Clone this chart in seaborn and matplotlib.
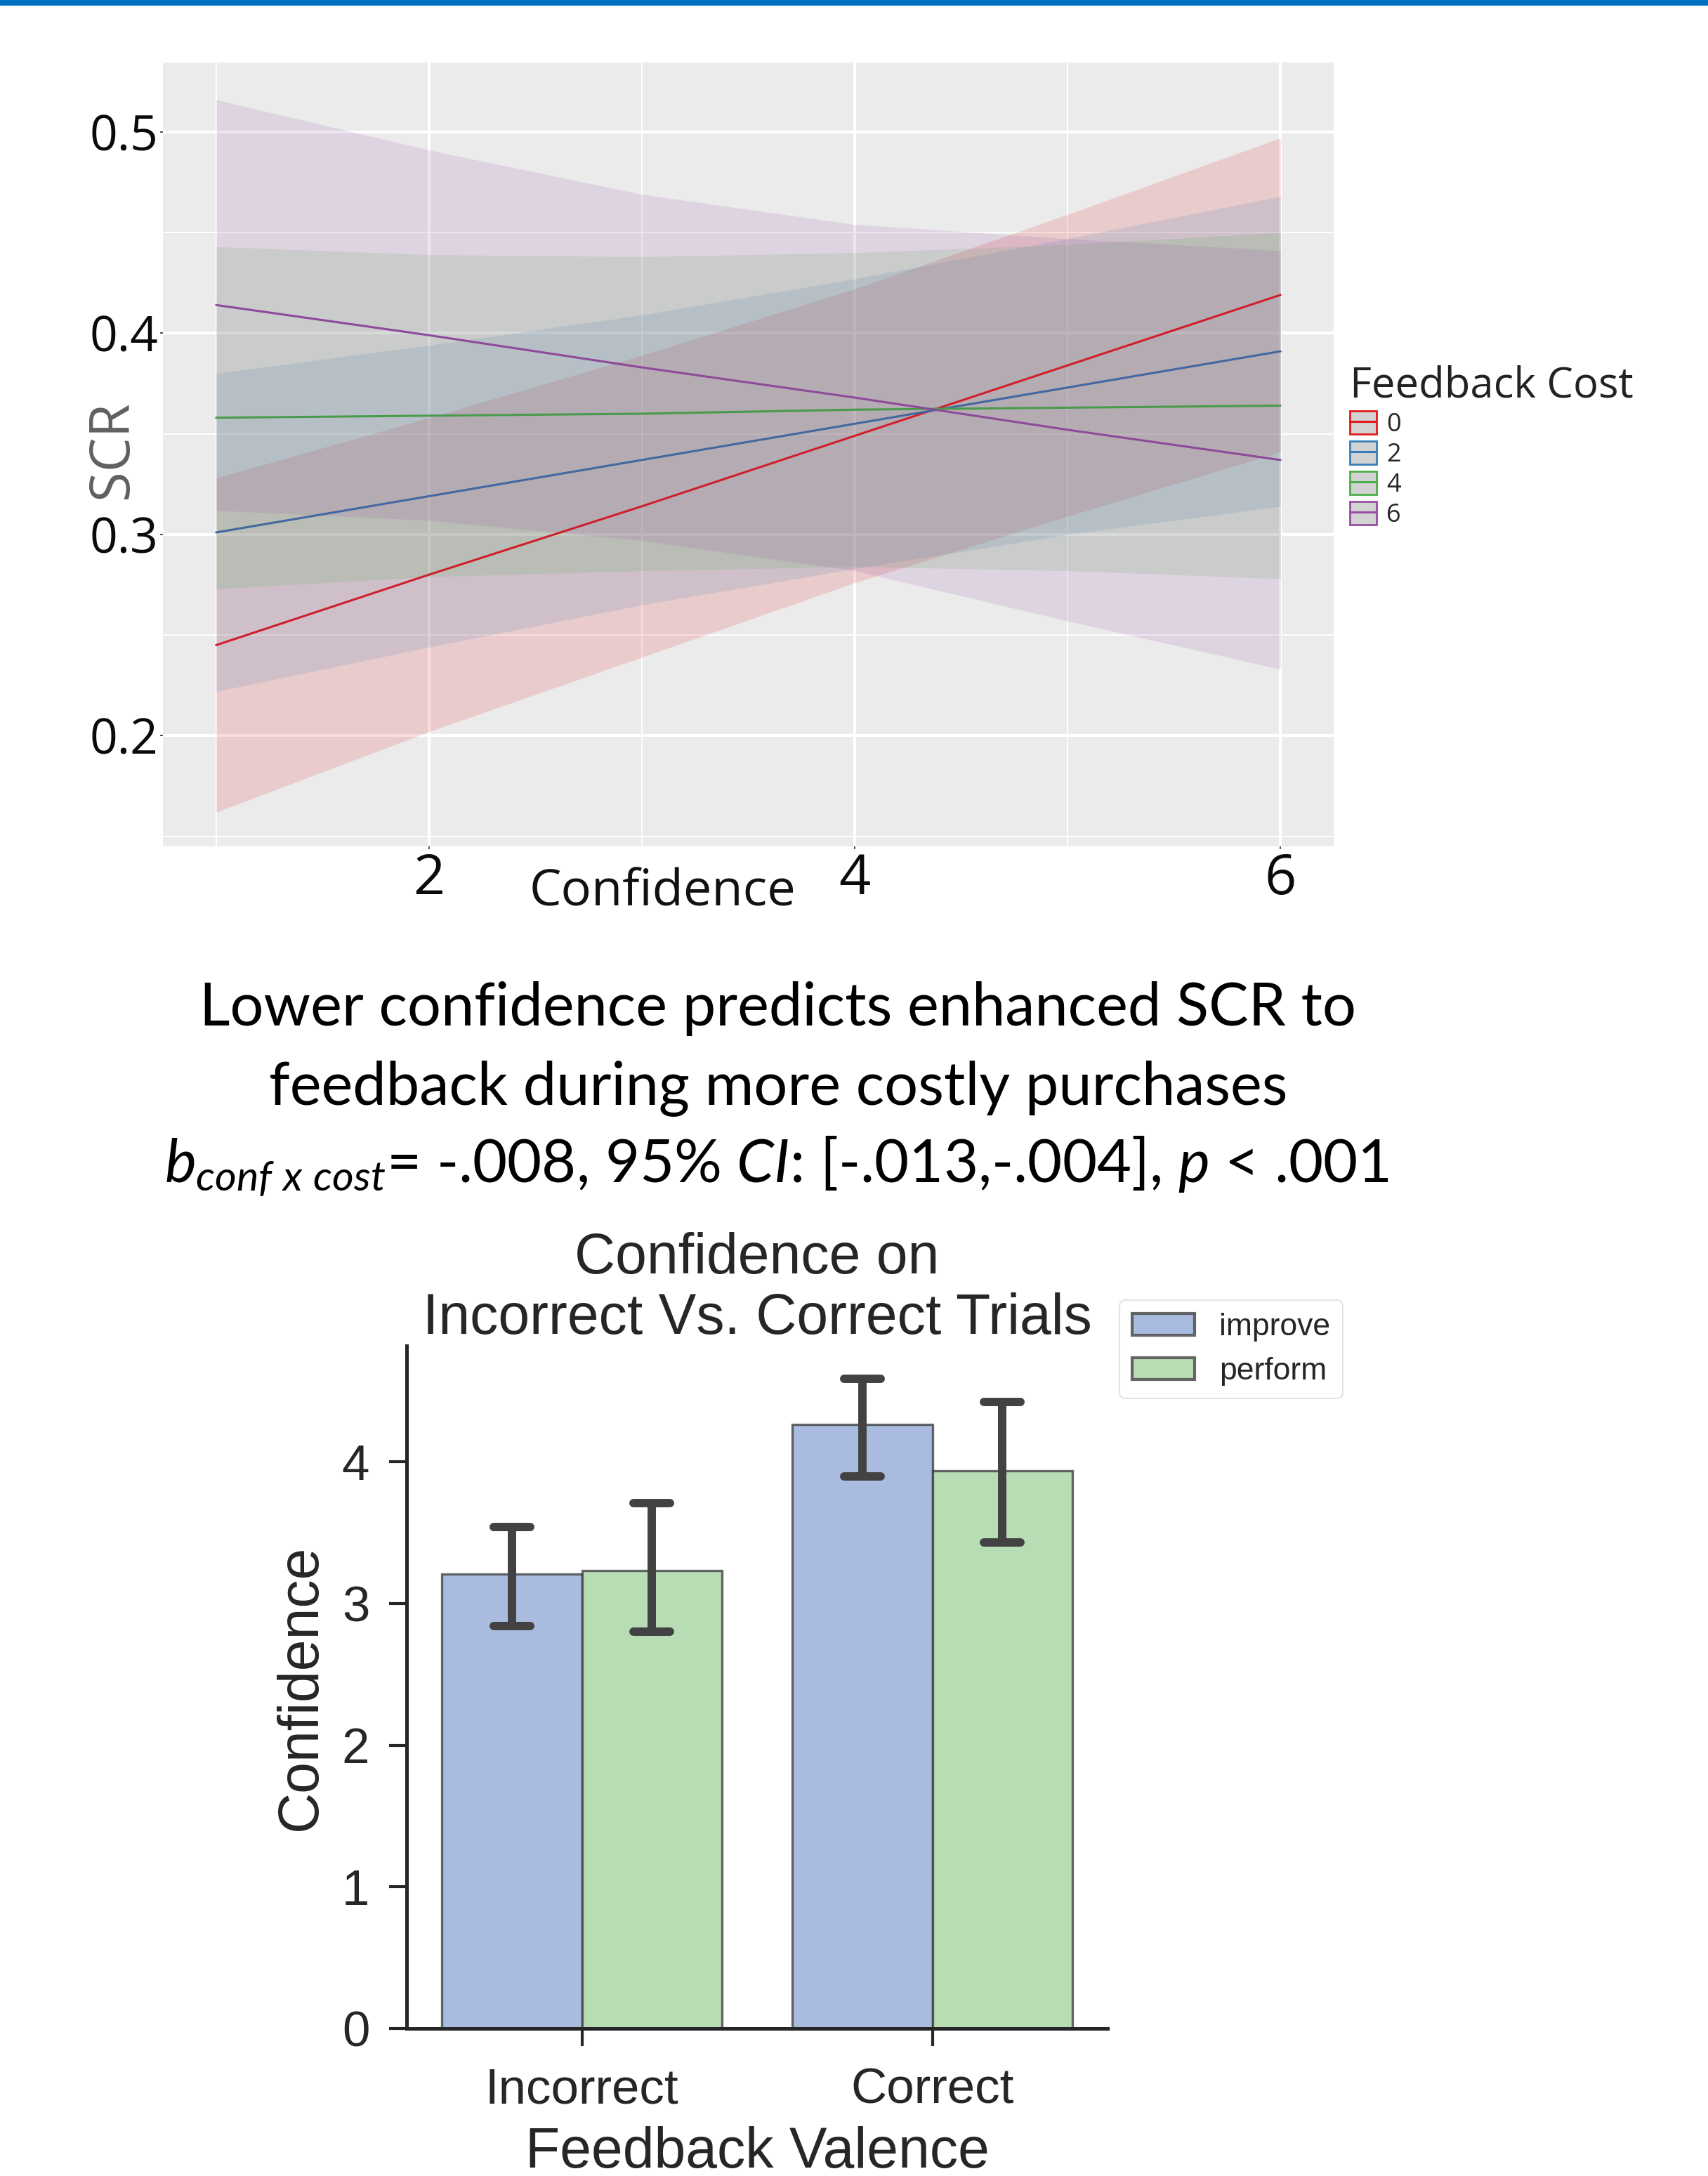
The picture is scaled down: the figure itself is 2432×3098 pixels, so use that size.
import numpy as np
import pandas as pd
import matplotlib
matplotlib.use("Agg")
import matplotlib.pyplot as plt
import seaborn as sns
from matplotlib.patches import Patch, Rectangle
from matplotlib.lines import Line2D

# ---------------- data: top panel (SCR vs confidence by feedback cost) ----------------
conf_x = [1, 2, 3, 4, 5, 6]
cost_levels = ["0", "2", "4", "6"]
scr_cost0 = [0.245, 0.280, 0.314, 0.349, 0.384, 0.419]
scr_cost2 = [0.301, 0.319, 0.337, 0.355, 0.373, 0.391]
scr_cost4 = [0.358, 0.359, 0.360, 0.362, 0.363, 0.364]
scr_cost6 = [0.414, 0.399, 0.383, 0.368, 0.352, 0.337]
lo_cost0 = [0.162, 0.202, 0.239, 0.276, 0.309, 0.341]
hi_cost0 = [0.328, 0.358, 0.389, 0.422, 0.459, 0.497]
lo_cost2 = [0.222, 0.244, 0.265, 0.283, 0.300, 0.314]
hi_cost2 = [0.380, 0.394, 0.409, 0.427, 0.447, 0.468]
lo_cost4 = [0.273, 0.279, 0.282, 0.284, 0.282, 0.278]
hi_cost4 = [0.443, 0.439, 0.438, 0.440, 0.444, 0.450]
lo_cost6 = [0.312, 0.307, 0.297, 0.282, 0.257, 0.233]
hi_cost6 = [0.516, 0.491, 0.469, 0.454, 0.447, 0.441]
top_xticks = [2, 4, 6]
top_yticks = [0.2, 0.3, 0.4, 0.5]

# ---------------- data: bottom panel (confidence bars) ----------------
valence = ["Incorrect", "Correct"]
groups = ["improve", "perform"]
conf_improve = [3.21, 4.266]
conf_perform = [3.233, 3.935]
ci_lo_improve = [2.84, 3.90]
ci_hi_improve = [3.54, 4.586]
ci_lo_perform = [2.80, 3.43]
ci_hi_perform = [3.707, 4.424]
bar_yticks = [0, 1, 2, 3, 4]

# ---------------- styling ----------------
sns.set_theme(style="ticks")
plt.rcParams["font.family"] = ["Liberation Sans", "DejaVu Sans"]
plt.rcParams["mathtext.fontset"] = "custom"
plt.rcParams["mathtext.rm"] = "Lato"
plt.rcParams["mathtext.it"] = "Lato:italic"
plt.rcParams["mathtext.bf"] = "Lato:bold"

W, H = 2432, 3098
fig = plt.figure(figsize=(W / 100, H / 100), dpi=100)
fig.patch.set_facecolor("white")

# blue strip at the very top
fig.add_artist(Rectangle((0, 1 - 8 / H), 1, 8 / H, transform=fig.transFigure,
                         color="#0070C0", lw=0))

# ================= TOP PANEL =================
band_cols = ["#E41A1C", "#377EB8", "#4DAF4A", "#984EA3"]
line_cols = ["#d01f2a", "#41689f", "#4a9a4c", "#8d4a9b"]
ax1 = fig.add_axes([232 / W, 1 - 1205 / H, 1667 / W, 1116 / H])
ax1.set_facecolor("#EBEBEB")

lows = [lo_cost0, lo_cost2, lo_cost4, lo_cost6]
highs = [hi_cost0, hi_cost2, hi_cost4, hi_cost6]

df_top = pd.DataFrame({
    "Confidence": conf_x * 4,
    "SCR": scr_cost0 + scr_cost2 + scr_cost4 + scr_cost6,
    "Feedback Cost": sum([[c] * len(conf_x) for c in cost_levels], []),
})

for lo, hi, col in zip(lows, highs, band_cols):
    ax1.fill_between(conf_x, lo, hi, color=col, alpha=0.15, lw=0, zorder=2)

sns.lineplot(data=df_top, x="Confidence", y="SCR", hue="Feedback Cost",
             hue_order=cost_levels, palette=line_cols, errorbar=None,
             legend=False, linewidth=2.2, ax=ax1, zorder=3)

ax1.set_xlim(0.75, 6.25)
ax1.set_ylim(0.145, 0.5345)
ax1.set_xticks(top_xticks)
ax1.set_xticks([1, 3, 5], minor=True)
ax1.set_yticks(top_yticks)
ax1.set_yticks([0.15, 0.25, 0.35, 0.45], minor=True)
ax1.set_yticklabels([f"{v:.1f}" for v in top_yticks])
ax1.set_xticklabels([str(v) for v in top_xticks])
ax1.grid(which="major", color="white", lw=2.9)
ax1.grid(which="minor", color="white", lw=1.4)
ax1.set_axisbelow(True)
for s in ax1.spines.values():
    s.set_visible(False)
ax1.tick_params(axis="y", which="major", length=3, width=1.2, color="#333333",
                pad=2, labelsize=50, labelcolor="#0a0a0a")
ax1.tick_params(axis="x", which="major", length=3, width=1.2, color="#333333",
                pad=3, labelsize=57, labelcolor="#0a0a0a")
ax1.tick_params(which="minor", length=0)
for lab in ax1.get_xticklabels() + ax1.get_yticklabels():
    lab.set_fontfamily("Open Sans")

ax1.set_xlabel("Confidence", fontsize=52, family="Open Sans", color="#111111")
ax1.xaxis.set_label_coords((943 - 232) / 1667, -0.027)
ax1.set_ylabel("SCR", fontsize=56, family="Open Sans", color="#606060")
ax1.yaxis.set_label_coords(-0.019, 0.506)

handles = [(Patch(facecolor="#d3d3d3", edgecolor=c, linewidth=2),
            Line2D([], [], color=c, lw=2.2)) for c in band_cols]
leg1 = ax1.legend(handles, cost_levels, title="Feedback Cost", loc="upper left",
                  bbox_to_anchor=(1922 / W, 1 - 520 / H),
                  bbox_transform=fig.transFigure, frameon=False,
                  prop={"family": "Open Sans", "size": 26},
                  title_fontproperties={"family": "Open Sans", "size": 43},
                  handlelength=1.05, handleheight=1.0, labelspacing=0.15,
                  handletextpad=0.4, borderpad=0, borderaxespad=0,
                  alignment="left")
leg1.get_title().set_color("#222222")

# ================= MIDDLE TEXT =================
txt_kw = dict(ha="center", va="baseline", family="Lato", size=61, color="black")
fig.text(1108 / W, 1 - 1460 / H, "Lower confidence predicts enhanced SCR to", **txt_kw)
fig.text(1108 / W, 1 - 1572 / H, "feedback during more costly purchases", **txt_kw)
fig.text(1106 / W, 1 - 1683 / H,
         r"$\mathit{b}_{\mathit{conf\ x\ cost}}$= -.008, 95% $\mathit{CI}$: [-.013,-.004], $\mathit{p}$ < .001",
         **txt_kw)

# ================= BOTTOM PANEL =================
bar_cols = ["#a9bcdf", "#b8ddb5"]
ax2 = fig.add_axes([579 / W, 1 - 2888 / H, 998 / W, 972 / H])
df_bar = pd.DataFrame({
    "Feedback Valence": valence * 2,
    "Confidence": conf_improve + conf_perform,
    "group": ["improve"] * 2 + ["perform"] * 2,
})
sns.barplot(data=df_bar, x="Feedback Valence", y="Confidence", hue="group",
            order=valence, hue_order=groups, palette=bar_cols, saturation=1,
            errorbar=None, edgecolor=(0.22, 0.22, 0.22, 0.75), linewidth=2.4,
            legend=False, ax=ax2, zorder=2)

err_col = "#424242"
for cont, means, los, his in zip(ax2.containers,
                                 [conf_improve, conf_perform],
                                 [ci_lo_improve, ci_lo_perform],
                                 [ci_hi_improve, ci_hi_perform]):
    for bar, m, lo, hi in zip(cont.patches, means, los, his):
        xc = bar.get_x() + bar.get_width() / 2
        hw = bar.get_width() * 0.13
        ax2.vlines(xc, lo, hi, color=err_col, lw=8.6, capstyle="round", zorder=4)
        ax2.hlines([lo, hi], xc - hw, xc + hw, color=err_col, lw=8.6,
                   capstyle="round", zorder=4)

ax2.set_xlim(-0.5, 1.5)
ax2.set_ylim(0, 4.82)
ax2.set_yticks(bar_yticks)
sns.despine(ax=ax2)
for s in ["left", "bottom"]:
    ax2.spines[s].set_linewidth(3.6)
    ax2.spines[s].set_color("#262626")
ax2.tick_params(axis="both", length=18, width=3, color="#262626",
                labelsize=51, labelcolor="#262626")
ax2.tick_params(axis="y", pad=20)
ax2.tick_params(axis="x", pad=22)
ax2.set_xlabel("Feedback Valence", fontsize=58, color="#262626")
ax2.xaxis.set_label_coords(0.5, -0.143)
ax2.set_ylabel("Confidence", fontsize=58, color="#262626")
ax2.yaxis.set_label_coords(-0.112, 0.5)
ax2.set_title("Confidence on\nIncorrect Vs. Correct Trials", fontsize=58,
              color="#262626", pad=8.5, linespacing=1.17)

leg_handles = [Patch(facecolor=c, edgecolor=(0.3, 0.3, 0.3, 0.85), linewidth=3)
               for c in bar_cols]
leg2 = ax2.legend(leg_handles, groups, loc="upper left",
                  bbox_to_anchor=(1594 / W, 1 - 1851 / H),
                  bbox_transform=fig.transFigure, borderaxespad=0,
                  fontsize=32, frameon=True, fancybox=True)
leg2.get_frame().set_edgecolor("#dddddd")
leg2.get_frame().set_linewidth(1.5)
for t in leg2.get_texts():
    t.set_color("#262626")

fig.savefig("out.png", dpi=100, facecolor="white")
